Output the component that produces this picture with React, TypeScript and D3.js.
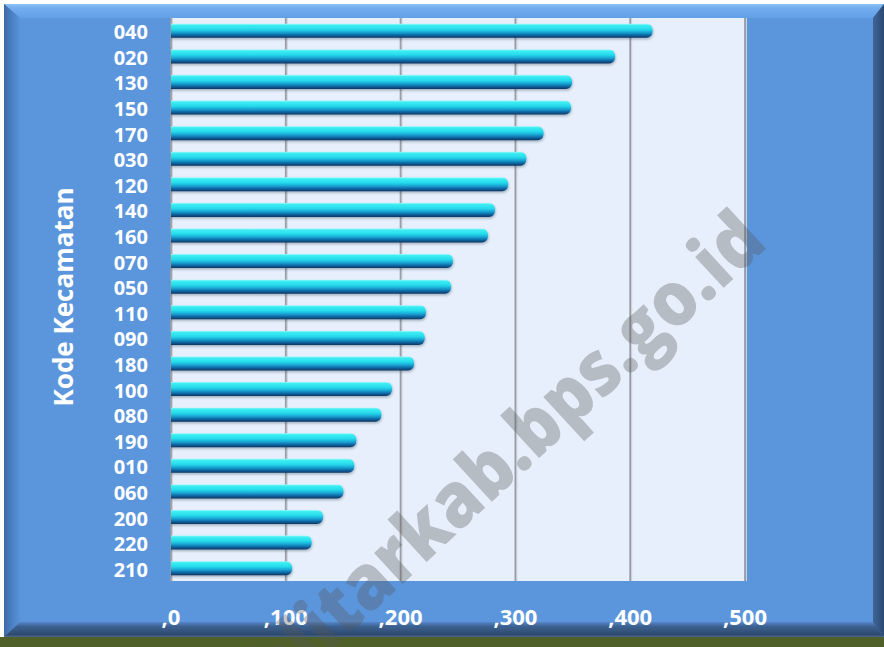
import React from "react";
import * as d3 from "d3";

const categories = ["040","020","130","150","170","030","120","140","160","070","050","110","090","180","100","080","190","010","060","200","220","210"];
const values = [419.5,386.8,349.3,348.4,324.5,309.5,293.6,282.2,276.1,245.6,243.9,222.1,221.0,211.7,192.5,183.2,161.5,159.6,150.2,132.4,122.5,105.4];
const xTicks = [0,100,200,300,400,500];
const xTickLabels = [",0",",100",",200",",300",",400",",500"];
const yTitle = "Kode Kecamatan";
const watermark = "blitarkab.bps.go.id";

const W = 884, H = 647;
const plot = { left: 171, right: 745, top: 18, bottom: 581 };
const FONT = "'Open Sans', 'DejaVu Sans', sans-serif";

export default function App() {
  const x = d3.scaleLinear().domain([0, 500]).range([plot.left, plot.right]);
  const y = d3.scaleBand<string>().domain(categories).range([plot.top, plot.bottom]).padding(0);
  const barH = 14;
  const r = 6;

  const barPath = (v: number, cy: number) => {
    const x0 = x(0), x1 = x(v);
    const t = cy - barH / 2, b = cy + barH / 2;
    return `M${x0},${t} H${x1 - r} A${r},${r} 0 0 1 ${x1},${t + r} V${b - r} A${r},${r} 0 0 1 ${x1 - r},${b} H${x0} Z`;
  };

  return (
    <svg width={W} height={H} style={{ position: "absolute", left: 0, top: 0 }}>
      <defs>
        <linearGradient id="barGrad" x1="0" y1="0" x2="0" y2="1">
          <stop offset="0" stopColor="#a8fbff" />
          <stop offset="0.1" stopColor="#3eeef2" />
          <stop offset="0.38" stopColor="#26dcec" />
          <stop offset="0.6" stopColor="#1aa8d6" />
          <stop offset="0.8" stopColor="#0f6aa6" />
          <stop offset="1" stopColor="#0a3564" />
        </linearGradient>
        <linearGradient id="topBevel" x1="0" y1="0" x2="0" y2="1">
          <stop offset="0" stopColor="#8cc0f5" />
          <stop offset="0.3" stopColor="#74acee" />
          <stop offset="1" stopColor="#62a0e6" />
        </linearGradient>
        <linearGradient id="leftBevel" x1="0" y1="0" x2="1" y2="0">
          <stop offset="0" stopColor="#3d6aa4" />
          <stop offset="0.5" stopColor="#4b80c6" />
          <stop offset="1" stopColor="#5893da" />
        </linearGradient>
        <linearGradient id="rightBevel" x1="0" y1="0" x2="1" y2="0">
          <stop offset="0" stopColor="#3e6598" />
          <stop offset="1" stopColor="#2c4a72" />
        </linearGradient>
        <linearGradient id="bottomBevel" x1="0" y1="0" x2="0" y2="1">
          <stop offset="0" stopColor="#5587c8" />
          <stop offset="0.3" stopColor="#3c6190" />
          <stop offset="0.85" stopColor="#2e4a6e" />
          <stop offset="1" stopColor="#4d6a8e" />
        </linearGradient>
        <filter id="barShadow" x="-5%" y="-50%" width="110%" height="200%">
          <feDropShadow dx="0.5" dy="1.5" stdDeviation="1" floodColor="#203040" floodOpacity="0.35" />
        </filter>
      </defs>

      {/* page background */}
      <rect x={0} y={0} width={W} height={H} fill="#ffffff" />
      <rect x={0} y={637} width={W} height={10} fill="#4f6128" />

      {/* frame */}
      <rect x={4} y={4} width={880} height={633} fill="#5b96dd" />
      <polygon points="4,4 884,4 873,18 20,18" fill="url(#topBevel)" />
      <polygon points="4,4 20,18 20,622 4,637" fill="url(#leftBevel)" />
      <polygon points="884,4 873,18 873,623 884,637" fill="url(#rightBevel)" />
      <polygon points="4,637 20,622 873,622 884,637" fill="url(#bottomBevel)" />

      {/* plot area */}
      <rect x={plot.left} y={plot.top} width={plot.right - plot.left} height={plot.bottom - plot.top} fill="#e6effb" />

      {/* gridlines */}
      {xTicks.map((t) => (
        <g key={"g" + t}>
          <line x1={x(t) + 1.5} x2={x(t) + 1.5} y1={plot.top} y2={plot.bottom} stroke="#cdd3dc" strokeWidth={1} />
          <line x1={x(t)} x2={x(t)} y1={plot.top} y2={plot.bottom} stroke="#999ea6" strokeWidth={1.8} />
        </g>
      ))}

      {/* bars */}
      {categories.map((c, i) => {
        const cy = (y(c) as number) + y.bandwidth() / 2;
        return <path key={c} d={barPath(values[i], cy)} fill="url(#barGrad)" filter="url(#barShadow)" />;
      })}

      {/* category labels */}
      {categories.map((c) => {
        const cy = (y(c) as number) + y.bandwidth() / 2;
        return (
          <text key={"l" + c} x={148} y={cy + 1} textAnchor="end" dominantBaseline="central"
            fill="#ffffff" fontFamily={FONT} fontWeight="bold" fontSize={20}>{c}</text>
        );
      })}

      {/* x tick labels */}
      {xTicks.map((t, i) => (
        <text key={"t" + t} x={x(t)} y={616} textAnchor="middle" dominantBaseline="central"
          fill="#ffffff" fontFamily={FONT} fontWeight="bold" fontSize={22}>{xTickLabels[i]}</text>
      ))}

      {/* y title */}
      <text transform={`translate(63,297) rotate(-90)`} textAnchor="middle" dominantBaseline="central"
        fill="#ffffff" fontFamily={FONT} fontWeight="bold" fontSize={26}>{yTitle}</text>

      {/* watermark */}
      <text transform={`translate(524,472) rotate(-42.7)`} textAnchor="middle"
        fill="#555555" fillOpacity={0.33} fontFamily={FONT} fontWeight="800" fontSize={76}
        textLength={668} lengthAdjust="spacingAndGlyphs">{watermark}</text>
    </svg>
  );
}
